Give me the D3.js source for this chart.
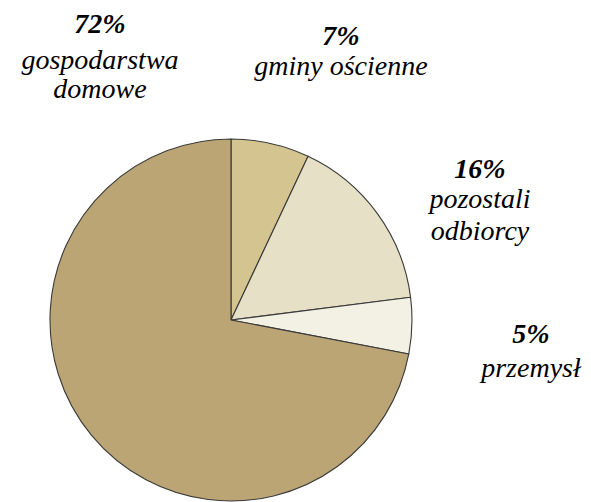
<!DOCTYPE html>
<html><head><meta charset="utf-8">
<script src="https://cdn.jsdelivr.net/npm/d3@7"></script>
<style>body{margin:0;background:#fff}</style>
</head><body>
<svg id="c" width="591" height="502"></svg>
<script>
const categories = ["gminy ościenne", "pozostali odbiorcy", "przemysł", "gospodarstwa domowe"];
const values = [7, 16, 5, 72];
const colors = ["#d4c48f", "#e6e0c6", "#f3f1e4", "#bba574"];
const labelLines = [["gminy ościenne"], ["pozostali", "odbiorcy"], ["przemysł"], ["gospodarstwa", "domowe"]];
// [centerX, percent baseline, first name baseline, line gap]
const labelLayout = [[341, 45, 75, 0], [480, 178, 208, 32], [531, 343, 377, 0], [100, 33, 69, 29]];

const svg = d3.select("#c");

function label(x, y, txt, size, bold) {
  const t = svg.append("text").attr("x", x).attr("y", y)
    .attr("font-family", "Liberation Serif").attr("font-size", size)
    .attr("font-style", "italic").attr("text-anchor", "middle");
  if (bold) t.attr("font-weight", "bold");
  t.text(txt);
}
labelLayout.forEach((p, i) => {
  label(p[0], p[1], values[i] + "%", 28, true);
  labelLines[i].forEach((l, j) => label(p[0], p[2] + j * p[3], l, 28, false));
});

const cx = 231, cy = 320, r = 181;
const pie = d3.pie().sort(null).value(d => d)(values);
const arc = d3.arc().innerRadius(0).outerRadius(r);
const g = svg.append("g").attr("transform", `translate(${cx},${cy})`);
g.selectAll("path").data(pie).join("path")
  .attr("d", arc)
  .attr("fill", (d, i) => colors[i])
  .attr("stroke", "#3a3a3a").attr("stroke-width", 1.1).attr("stroke-linejoin", "round");
</script>
</body></html>
